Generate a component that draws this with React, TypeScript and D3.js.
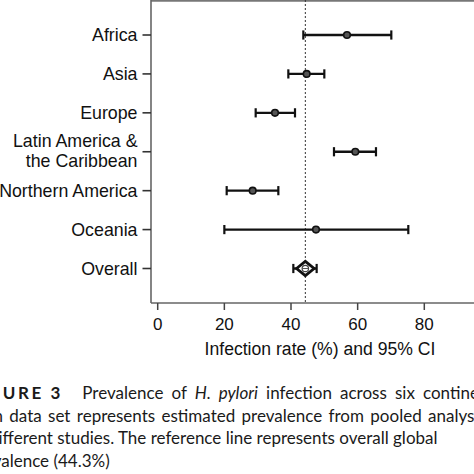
import React, { useLayoutEffect, useRef } from "react";
import * as d3 from "d3";

const categories = ["Africa", "Asia", "Europe", "Latin America & the Caribbean", "Northern America", "Oceania", "Overall"];
const labelLines: string[][] = [["Africa"], ["Asia"], ["Europe"], ["Latin America &", "the Caribbean"], ["Northern America"], ["Oceania"], ["Overall"]];
const estimates = [56.8, 44.7, 35.2, 59.3, 28.5, 47.5, 44.3];
const lower = [43.7, 39.2, 29.4, 52.9, 20.7, 20.0, 40.7];
const upper = [70.1, 50.0, 41.2, 65.5, 36.2, 75.2, 47.7];
const xTicks = [0, 20, 40, 60, 80];
const referenceValue = 44.3;
const xTitle = "Infection rate (%) and 95% CI";

const W = 474;
const H = 474;
const axisFont = "'Liberation Sans', Arial, sans-serif";
const capFont = "Lato, 'Noto Sans', sans-serif";

const line1a = "Prevalence of ";
const line1b = "H. pylori";
const line1c = " infection across six continents.";
const line2 = "Each data set represents estimated prevalence from pooled analysis of";
const line3 = "different studies. The reference line represents overall global";
const line4 = "prevalence (44.3%)";

export default function App() {
  const x = d3.scaleLinear().domain([0, 80]).range([157.7, 424.3]);
  const y = d3.scalePoint<string>().domain(categories).range([35, 268.5]);
  const axisX = 151;
  const axisY = 303;

  const r1 = useRef<SVGTextElement>(null);
  const r2 = useRef<SVGTextElement>(null);
  const r3 = useRef<SVGTextElement>(null);
  const r4 = useRef<SVGTextElement>(null);

  useLayoutEffect(() => {
    const pos = (el: SVGTextElement, i: number) => el.getStartPositionOfChar(i).x;
    const run = () => {
      try {
        const l1 = r1.current!;
        const full1 = line1a + line1b + line1c;
        const iCont = full1.indexOf("continents");
        l1.setAttribute("word-spacing", "0");
        l1.setAttribute("x", "82.3");
        const p1 = pos(l1, iCont);
        const ws1 = Math.max(0, (423 - p1) / 7);
        l1.setAttribute("word-spacing", String(ws1));

        const l2 = r2.current!;
        const iData = line2.indexOf("data");
        const iAn = line2.indexOf("analysis");
        l2.setAttribute("word-spacing", "0");
        l2.setAttribute("x", "0");
        const d0 = pos(l2, iAn) - pos(l2, iData);
        const ws2 = Math.max(0, (428 - 9.3 - d0) / 7);
        l2.setAttribute("word-spacing", String(ws2));
        const pd = pos(l2, iData);
        l2.setAttribute("x", String(9.3 - pd));

        const l3 = r3.current!;
        l3.setAttribute("x", "0");
        l3.setAttribute("x", String(2.6 - pos(l3, 2)));

        const l4 = r4.current!;
        l4.setAttribute("x", "0");
        l4.setAttribute("x", String(1.2 - pos(l4, 4)));
      } catch (e) {
        /* ignore */
      }
    };
    run();
    const fonts = (document as any).fonts;
    if (fonts && fonts.ready) fonts.ready.then(run);
  }, []);

  return (
    <svg width={W} height={H} style={{ position: "absolute", left: 0, top: 0, background: "#fff" }}>
      <rect x={0} y={0} width={W} height={H} fill="#fff" />
      {/* frame */}
      <line x1={axisX} x2={W} y1={0.8} y2={0.8} stroke="#777" strokeWidth={2} />
      <line x1={axisX} x2={axisX} y1={0} y2={axisY} stroke="#666" strokeWidth={1.6} />
      <line x1={axisX} x2={W} y1={axisY} y2={axisY} stroke="#666" strokeWidth={1.6} />
      {/* reference line */}
      <line x1={x(referenceValue)} x2={x(referenceValue)} y1={0} y2={axisY} stroke="#333" strokeWidth={1} strokeDasharray="2,2" />
      {/* x ticks */}
      {xTicks.map((t) => (
        <g key={t}>
          <line x1={x(t)} x2={x(t)} y1={axisY} y2={axisY + 7} stroke="#444" strokeWidth={1.5} />
          <text x={x(t)} y={329.7} textAnchor="middle" fontFamily={axisFont} fontSize={17} fill="#111">{t}</text>
        </g>
      ))}
      <text x={320} y={355} textAnchor="middle" fontFamily={axisFont} fontSize={17.6} fill="#111">{xTitle}</text>
      {/* y ticks and labels */}
      {categories.map((c, i) => {
        const yy = y(c) as number;
        const lines = labelLines[i];
        return (
          <g key={c}>
            <line x1={axisX - 8.5} x2={axisX} y1={yy} y2={yy} stroke="#333" strokeWidth={1.6} />
            {lines.length === 1 ? (
              <text x={137.5} y={yy + 6.4} textAnchor="end" fontFamily={axisFont} fontSize={17.8} fill="#111">{lines[0]}</text>
            ) : (
              <text textAnchor="end" fontFamily={axisFont} fontSize={17.8} fill="#111">
                <tspan x={137.5} y={yy - 5.2}>{lines[0]}</tspan>
                <tspan x={137.5} y={yy + 15.2}>{lines[1]}</tspan>
              </text>
            )}
          </g>
        );
      })}
      {/* error bars */}
      {categories.map((c, i) => {
        const yy = y(c) as number;
        const isOverall = c === "Overall";
        return (
          <g key={"e" + c}>
            <line x1={x(lower[i])} x2={x(upper[i])} y1={yy} y2={yy} stroke="#111" strokeWidth={2.4} />
            <line x1={x(lower[i])} x2={x(lower[i])} y1={yy - 4.6} y2={yy + 4.6} stroke="#111" strokeWidth={2.2} />
            <line x1={x(upper[i])} x2={x(upper[i])} y1={yy - 4.6} y2={yy + 4.6} stroke="#111" strokeWidth={2.2} />
            {isOverall ? (
              <g>
                <path
                  d={`M${x(estimates[i]) - 8.8},${yy} L${x(estimates[i])},${yy - 7.2} L${x(estimates[i]) + 8.8},${yy} L${x(estimates[i])},${yy + 7.2} Z`}
                  fill="#fff"
                  stroke="#111"
                  strokeWidth={2.8}
                />
                <circle cx={x(estimates[i])} cy={yy} r={3.2} fill="#fff" stroke="#444" strokeWidth={1.2} />
                <line x1={x(estimates[i]) - 3} x2={x(estimates[i]) + 3} y1={yy} y2={yy} stroke="#555" strokeWidth={1} />
              </g>
            ) : (
              <circle cx={x(estimates[i])} cy={yy} r={3.3} fill="#555" stroke="#111" strokeWidth={1.6} />
            )}
          </g>
        );
      })}
      {/* caption */}
      <text x={63} y={399.3} textAnchor="end" fontFamily={capFont} fontWeight={700} fontSize={17} letterSpacing={2.6} fill="#1a1a1a">FIGURE 3</text>
      <text ref={r1} x={82.3} y={399.3} fontFamily={capFont} fontSize={17} fill="#1a1a1a">
        {line1a}<tspan fontStyle="italic">{line1b}</tspan>{line1c}
      </text>
      <text ref={r2} x={0} y={421.7} fontFamily={capFont} fontSize={17} fill="#1a1a1a">{line2}</text>
      <text ref={r3} x={0} y={444.2} fontFamily={capFont} fontSize={17} fill="#1a1a1a">{line3}</text>
      <text ref={r4} x={0} y={466.7} fontFamily={capFont} fontSize={17} fill="#1a1a1a">{line4}</text>
    </svg>
  );
}
